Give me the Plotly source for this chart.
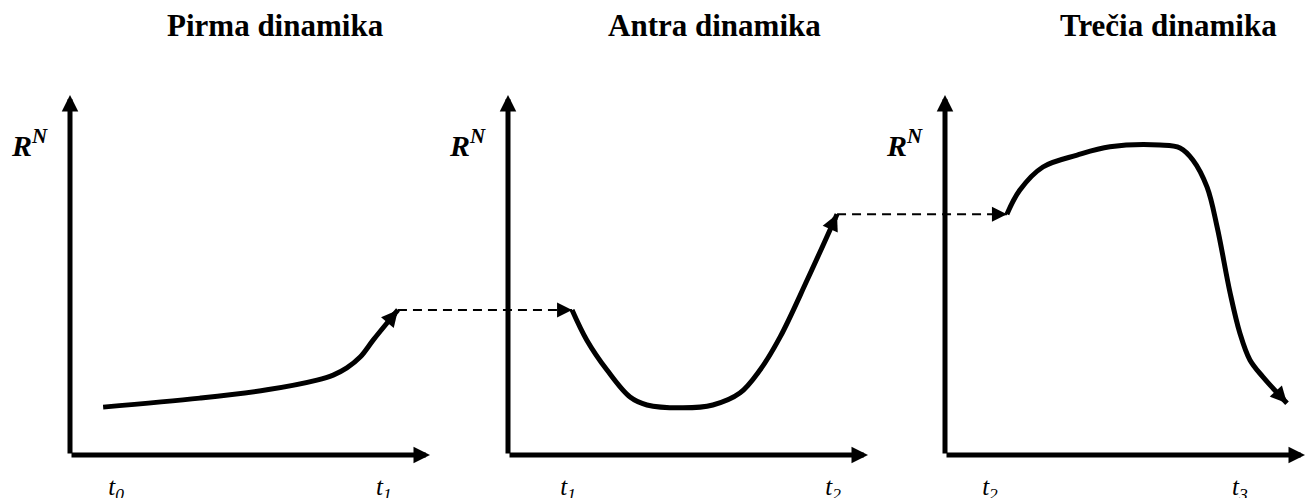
import math
import plotly.graph_objects as go

# ---------------- data (panel-local units: time 0..10, R^N 0..10) ----------------
titles = ["Pirma dinamika", "Antra dinamika", "Trečia dinamika"]

curve1_t = [0.92, 3.61, 5.47, 6.86, 7.31, 7.69, 8.06, 8.42, 8.81, 9.11]
curve1_r = [1.33, 1.58, 1.81, 2.08, 2.22, 2.42, 2.72, 3.19, 3.67, 4.03]

curve2_t = [1.78, 2.19, 2.75, 3.39, 3.86, 4.86, 5.69, 6.44, 7.00, 7.56, 8.31, 9.14]
curve2_r = [4.03, 3.19, 2.36, 1.61, 1.39, 1.31, 1.39, 1.72, 2.36, 3.28, 4.86, 6.69]

curve3_t = [1.72, 2.08, 2.72, 3.67, 4.58, 5.97, 6.53, 6.89, 7.28, 7.56, 7.92, 8.19, 8.47, 8.83, 9.50]
curve3_r = [6.69, 7.36, 8.00, 8.33, 8.56, 8.61, 8.53, 8.19, 7.44, 6.33, 4.50, 3.39, 2.64, 2.17, 1.44]

tick_vals = [[1.28, 8.72], [1.67, 9.03], [1.25, 8.19]]
tick_text = [["t<sub>0</sub>", "t<sub>1</sub>"],
             ["t<sub>1</sub>", "t<sub>2</sub>"],
             ["t<sub>2</sub>", "t<sub>3</sub>"]]
y_label = "R<sup>N</sup>"

curves_t = [curve1_t, curve2_t, curve3_t]
curves_r = [curve1_r, curve2_r, curve3_r]

# ---------------- layout geometry ----------------
W, H = 1311, 498
PANEL_LEFT = [70, 508, 945]
PANEL_W = 360
Y_BOTTOM, Y_TOP = 455, 95
RANGE = [0, 10]
FONT = "Liberation Serif, Times New Roman, serif"
PX_PER_UNIT = PANEL_W / (RANGE[1] - RANGE[0])

xdoms = [[l / W, (l + PANEL_W) / W] for l in PANEL_LEFT]
ydom = [1 - Y_BOTTOM / H, 1 - Y_TOP / H]

def paper_x(i, v):
    d = xdoms[i]
    return d[0] + (v - RANGE[0]) / (RANGE[1] - RANGE[0]) * (d[1] - d[0])

def paper_y(v):
    return ydom[0] + (v - RANGE[0]) / (RANGE[1] - RANGE[0]) * (ydom[1] - ydom[0])

fig = go.Figure()
axnames = ["x", "x2", "x3"]

annotations = []
shapes = []

HEAD = dict(text="", showarrow=True, arrowhead=2, arrowwidth=5, arrowsize=0.66,
            arrowcolor="black", standoff=0)

for i in range(3):
    xa = axnames[i]
    t, r = curves_t[i], curves_r[i]
    fig.add_trace(go.Scatter(
        x=t, y=r, xaxis=xa, yaxis="y", mode="lines",
        line=dict(color="black", width=5, shape="spline", smoothing=1),
        hoverinfo="skip", showlegend=False))
    # arrow head at the end of the curve, direction of final segment (pixel offsets)
    dx = (t[-1] - t[-2]) * PX_PER_UNIT
    dy = -(r[-1] - r[-2]) * PX_PER_UNIT
    L = math.hypot(dx, dy)
    annotations.append(dict(
        x=t[-1], y=r[-1], xref=xa, yref="y", axref="pixel", ayref="pixel",
        ax=-dx / L * 12, ay=-dy / L * 12, **HEAD))
    # axes drawn as arrows
    annotations.append(dict(
        x=RANGE[1], y=RANGE[0], ax=RANGE[0], ay=RANGE[0], xref=xa, yref="y",
        axref=xa, ayref="y", **HEAD))
    annotations.append(dict(
        x=RANGE[0], y=RANGE[1], ax=RANGE[0], ay=RANGE[0], xref=xa, yref="y",
        axref=xa, ayref="y", **HEAD))
    # panel title
    annotations.append(dict(
        x=[0.57, 0.575, 0.62][i], y=1 - 26 / H, xref=f"{xa} domain", yref="paper",
        text=f"<b>{titles[i]}</b>", showarrow=False, xanchor="center", yanchor="middle",
        font=dict(family=FONT, size=31, color="black")))
    # R^N label
    annotations.append(dict(
        x=-0.112, y=0.867, xref=f"{xa} domain", yref="y domain",
        text=f"<b><i>{y_label}</i></b>", showarrow=False, xanchor="center", yanchor="middle",
        font=dict(family=FONT, size=30, color="black")))

# dashed connectors between consecutive panels
for i in range(2):
    x_from = paper_x(i, curves_t[i][-1])
    x_to = paper_x(i + 1, curves_t[i + 1][0])
    yv = paper_y(curves_r[i][-1])
    shapes.append(dict(type="line", xref="paper", yref="paper",
                       x0=x_from, x1=x_to, y0=yv, y1=yv,
                       line=dict(color="black", width=2, dash="9px,6px")))
    annotations.append(dict(
        x=curves_t[i + 1][0], y=curves_r[i][-1], xref=axnames[i + 1], yref="y",
        axref="pixel", ayref="pixel", ax=-14, ay=0, text="", showarrow=True,
        arrowhead=2, arrowwidth=2, arrowsize=1.5, arrowcolor="black", standoff=0))

layout_axes = {}
for i in range(3):
    key = "xaxis" if i == 0 else f"xaxis{i+1}"
    layout_axes[key] = dict(
        domain=xdoms[i], range=RANGE, anchor="y", automargin=False,
        showgrid=False, zeroline=False, showline=False,
        tickmode="array", tickvals=tick_vals[i],
        ticktext=[f"<i>{s}</i>" for s in tick_text[i]],
        ticks="outside", ticklen=9, tickcolor="rgba(0,0,0,0)",
        tickfont=dict(family=FONT, size=25, color="black"),
        fixedrange=True)

fig.update_layout(
    template="none",
    width=W, height=H,
    margin=dict(l=0, r=0, t=0, b=0, pad=0, autoexpand=False),
    paper_bgcolor="white", plot_bgcolor="white",
    yaxis=dict(domain=ydom, range=RANGE, anchor="x", visible=False, automargin=False,
               showgrid=False, zeroline=False, fixedrange=True),
    annotations=annotations, shapes=shapes,
    showlegend=False,
    **layout_axes)

fig.write_html(
    "out.html",
    config={"displayModeBar": False},
    post_script="document.body.style.margin='0';document.body.style.overflow='hidden';",
)
